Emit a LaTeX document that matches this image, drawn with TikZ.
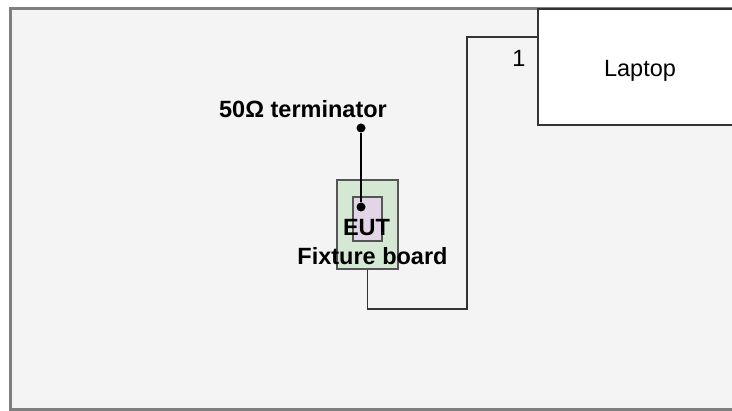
\documentclass[tikz,border=0pt]{standalone}
\usepackage{fontspec}
\setmainfont{Liberation Sans}
\usepackage{tikz}
\usetikzlibrary{positioning,calc}
\definecolor{framegray}{HTML}{7F7F7F}
\definecolor{areafill}{HTML}{F4F4F4}
\definecolor{boxline}{HTML}{333333}
\definecolor{boardfill}{HTML}{D5E8D4}
\definecolor{boardline}{HTML}{555555}
\definecolor{eutfill}{HTML}{E1D5E7}

\begin{document}
\begin{tikzpicture}[x=1pt,y=-1pt,
   box/.style={rectangle,draw=boxline,line width=1.8pt,inner sep=0pt},
   pin/.style={circle,fill=black,minimum size=9pt,inner sep=0pt},
   wire/.style={line width=1.8pt,draw=boxline},
   lbl/.style={font=\fontsize{23.5}{28}\selectfont,inner sep=0pt,anchor=base},
   every node/.style={font=\fontsize{23.5}{28}\selectfont}]
  \clip (0,0) rectangle (732,411);
  % test area
  \draw[framegray,line width=3pt,fill=areafill] (10,9) rectangle (780,410);
  % laptop
  \node[box,fill=white,minimum width=204pt,minimum height=116pt] (laptop) at (640,67) {};
  \node[lbl] (laptoplbl) at (640,77) {Laptop};
  \node[lbl] (port) at (519,66.7) {1};
  % fixture board with EUT
  \node[box,draw=boardline,fill=boardfill,minimum width=61pt,minimum height=89pt] (board) at (367.5,224.5) {};
  \node[box,draw=boardline,fill=eutfill,minimum width=29pt,minimum height=44pt] (eut) at (367.2,218.7) {};
  % cable to laptop
  \coordinate (lport) at ([yshift=-29pt]laptop.north west);
  \coordinate (bend) at (466.7,309);
  \draw[wire] (lport) -| (bend) -| (board.south);
  % terminator
  \node[pin] (term) at (361,128) {};
  \node[pin] (eutpin) at (361,207) {};
  \draw[wire,draw=black] (term) -- (eutpin);
  % labels
  \node[lbl] (termlbl) at (303,118) {\bfseries 50Ω terminator};
  \node[lbl] (eutlbl) at (366.5,235.7) {\bfseries EUT};
  \node[lbl] (boardlbl) at (372.5,264.3) {\bfseries Fixture board};
\end{tikzpicture}
\end{document}
